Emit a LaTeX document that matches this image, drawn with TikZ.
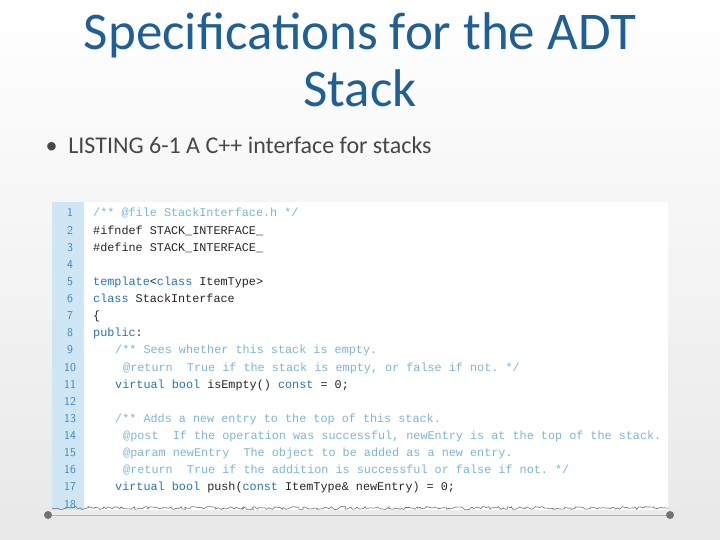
\documentclass[tikz,border=0pt]{standalone}
\usepackage{fontspec}
\setmainfont{Carlito}
\setmonofont{Liberation Mono}
\usetikzlibrary{decorations.pathmorphing}
\definecolor{titleblue}{HTML}{1F5F95}
\definecolor{cmt}{HTML}{7DB6D6}
\definecolor{kwc}{HTML}{2577B0}
\definecolor{codec}{HTML}{262626}
\definecolor{gutter}{HTML}{CFE6F5}
\definecolor{numc}{HTML}{3A86C0}
\newcommand{\cmx}[1]{\textcolor{cmt}{#1}}
\newcommand{\kwx}[1]{\textcolor{kwc}{#1}}
\begin{document}
\begin{tikzpicture}[x=1pt,y=-1pt,
  codeline/.style={anchor=base west,inner sep=0pt,font=\fontsize{11.8}{13}\ttfamily,text=codec},
  numline/.style={anchor=base,inner sep=0pt,font=\fontsize{12}{13}\sffamily,text=numc}]
\useasboundingbox (0,0) rectangle (720,540);
\fill[top color=white,bottom color=black!9] (0,0) rectangle (720,540);
\node[font=\fontsize{53}{57}\selectfont,text=titleblue,align=center] (title) at (360,60) {Specifications for the ADT\\Stack};
\node[anchor=west,font=\fontsize{24}{26}\selectfont,text=black!72] (bul) at (42,145) {\textbullet\ \ LISTING 6-1 A C++ interface for stacks};
\fill[white] (52,202) rectangle (668,510);
\fill[gutter] (52,202) rectangle (84,510);
\foreach \n in {1,...,18}{
  \node[numline] (n\n) at (70,{213+(\n-1)*17.12+4}) {\n};
}
\newcommand{\cl}[3]{\node[codeline] (c#1) at (#2,{213+(#1-1)*17.12+4}) {#3};}
\cl{1}{93}{\cmx{/** @file StackInterface.h */}}
\cl{2}{93}{\#ifndef STACK\_INTERFACE\_}
\cl{3}{93}{\#define STACK\_INTERFACE\_}
\cl{5}{93}{\kwx{template}<\kwx{class} ItemType>}
\cl{6}{93}{\kwx{class} StackInterface}
\cl{7}{93}{\{}
\cl{8}{93}{\kwx{public}:}
\cl{9}{115}{\cmx{/** Sees whether this stack is empty.}}
\cl{10}{123}{\cmx{@return\ \ True if the stack is empty, or false if not. */}}
\cl{11}{115}{\kwx{virtual bool} isEmpty() \kwx{const} = 0;}
\cl{13}{115}{\cmx{/** Adds a new entry to the top of this stack.}}
\cl{14}{123}{\cmx{@post\ \ If the operation was successful, newEntry is at the top of the stack.}}
\cl{15}{123}{\cmx{@param newEntry\ \ The object to be added as a new entry.}}
\cl{16}{123}{\cmx{@return\ \ True if the addition is successful or false if not. */}}
\cl{17}{115}{\kwx{virtual bool} push(\kwx{const} ItemType\& newEntry) = 0;}
\fill[black!8] (52,510) rectangle (668,516);
\draw[black!55,line width=0.6pt,decorate,decoration={random steps,segment length=2pt,amplitude=1.5pt}] (52,508) -- (668,508);
\coordinate (dl) at (48,515);
\coordinate (dr) at (670,515);
\draw[black!30,line width=0.8pt] (dl) -- (dr);
\fill[black!55] (dl) circle (4);
\fill[black!55] (dr) circle (4);
\end{tikzpicture}
\end{document}
